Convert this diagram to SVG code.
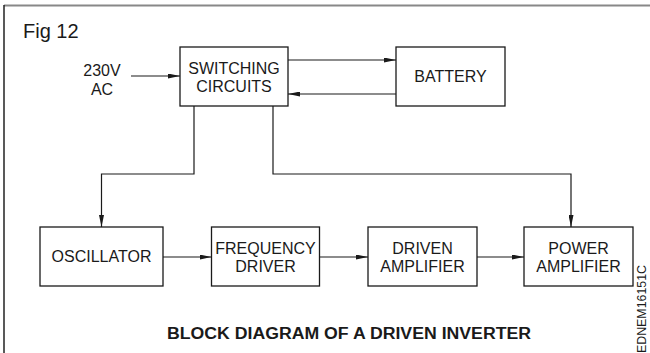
<svg xmlns="http://www.w3.org/2000/svg" width="650" height="353" viewBox="0 0 650 353">
<style>
.box{fill:#fff;stroke:#1a1a1a;stroke-width:1.3}
.t{font-family:"Liberation Sans",Arial,sans-serif;font-size:16px;fill:#1a1a1a;text-anchor:middle}
.c{fill:none;stroke:#1a1a1a;stroke-width:1.2}
</style>
<defs>
<marker id="ah" viewBox="0 0 12 5" refX="12" refY="2.5" markerWidth="12" markerHeight="5" markerUnits="userSpaceOnUse" orient="auto">
<path d="M0,0 L12,2.5 L0,5 Z" fill="#1a1a1a"/>
</marker>
</defs>
<rect width="650" height="353" fill="#fff"/>
<line x1="4" y1="5.5" x2="650" y2="5.5" stroke="#888" stroke-width="2"/>
<line x1="4" y1="5" x2="4" y2="353" stroke="#222" stroke-width="1.5"/>
<text x="23" y="38" font-family="Liberation Sans,Arial,sans-serif" font-size="20" fill="#1a1a1a">Fig 12</text>
<g id="input-230v">
<text class="t" x="102" y="76">230V</text>
<text class="t" x="102" y="95">AC</text>
</g>
<g id="switching">
<rect class="box" x="180" y="47" width="108" height="59"/>
<text class="t" x="234" y="74">SWITCHING</text>
<text class="t" x="234" y="92">CIRCUITS</text>
</g>
<g id="battery">
<rect class="box" x="396" y="47" width="109" height="59"/>
<text class="t" x="450.5" y="82">BATTERY</text>
</g>
<g id="oscillator">
<rect class="box" x="40" y="227" width="123" height="59"/>
<text class="t" x="101.5" y="262">OSCILLATOR</text>
</g>
<g id="frequency-driver">
<rect class="box" x="211.5" y="227" width="108" height="59"/>
<text class="t" x="265.5" y="254">FREQUENCY</text>
<text class="t" x="265.5" y="272">DRIVER</text>
</g>
<g id="driven-amplifier">
<rect class="box" x="368" y="227" width="109" height="59"/>
<text class="t" x="422.5" y="254">DRIVEN</text>
<text class="t" x="422.5" y="272">AMPLIFIER</text>
</g>
<g id="power-amplifier">
<rect class="box" x="524" y="227" width="109" height="59"/>
<text class="t" x="578.5" y="254">POWER</text>
<text class="t" x="578.5" y="272">AMPLIFIER</text>
</g>
<g id="connectors">
<line class="c" x1="131" y1="76" x2="180" y2="76" marker-end="url(#ah)"/>
<line class="c" x1="288" y1="60" x2="396" y2="60" marker-end="url(#ah)"/>
<line class="c" x1="396" y1="94" x2="288" y2="94" marker-end="url(#ah)"/>
<polyline class="c" points="194,106 194,174 101.5,174 101.5,227" marker-end="url(#ah)"/>
<polyline class="c" points="273,106 273,174 571,174 571,227" marker-end="url(#ah)"/>
<line class="c" x1="163" y1="257" x2="211.5" y2="257" marker-end="url(#ah)"/>
<line class="c" x1="319.5" y1="257" x2="368" y2="257" marker-end="url(#ah)"/>
<line class="c" x1="477" y1="257" x2="524" y2="257" marker-end="url(#ah)"/>
</g>
<text x="167" y="339" font-family="Liberation Sans,Arial,sans-serif" font-size="16" font-weight="bold" fill="#1a1a1a" textLength="364" lengthAdjust="spacingAndGlyphs">BLOCK DIAGRAM OF A DRIVEN INVERTER</text>
<text transform="translate(646,353) rotate(-90)" x="0" y="0" font-family="Liberation Sans,Arial,sans-serif" font-size="12" fill="#1a1a1a" textLength="88" lengthAdjust="spacingAndGlyphs">EDNEM16151C</text>
</svg>
